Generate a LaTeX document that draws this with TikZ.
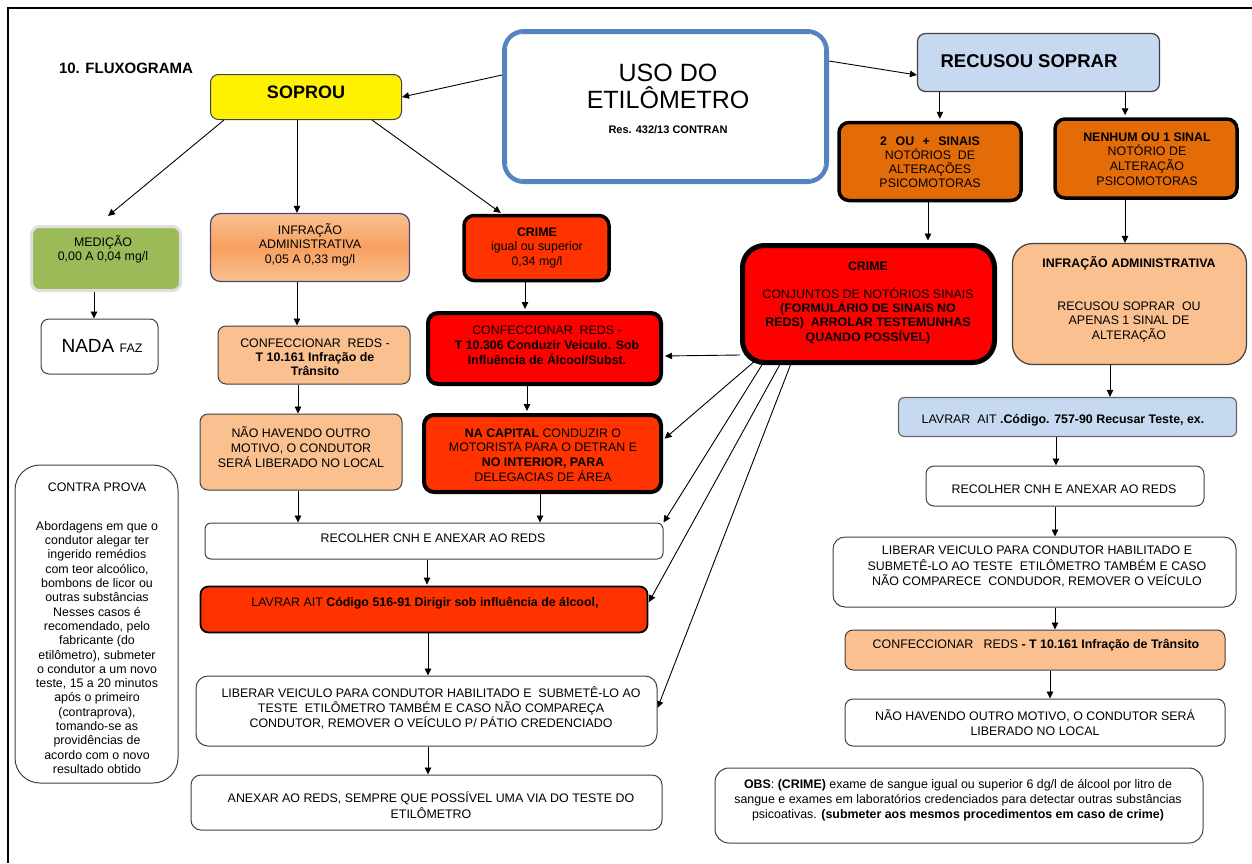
\documentclass[tikz,border=0pt]{standalone}
\usepackage{fontspec}
\setmainfont{Liberation Sans}
\usetikzlibrary{arrows.meta}
\definecolor{dgray}{RGB}{64,64,64}
\definecolor{usoblue}{RGB}{84,131,192}
\definecolor{lblue}{RGB}{198,217,241}
\definecolor{orng}{RGB}{227,108,9}
\definecolor{grn}{RGB}{155,187,89}
\definecolor{peach}{RGB}{250,192,144}
\definecolor{peachd}{RGB}{247,160,95}
\definecolor{redor}{RGB}{255,51,0}
\definecolor{navy}{RGB}{70,70,120}
\pgfdeclarelayer{bg}
\pgfsetlayers{bg,main}
\begin{document}
\begin{tikzpicture}[x=1pt,y=1pt,
  bx/.style={draw=dgray, line width=1pt, rounded corners=8pt, inner sep=0pt},
  tb/.style={draw=black, line width=3.5pt, rounded corners=10pt, inner sep=0pt},
  tx/.style={align=center, inner sep=0pt, font=\fontsize{12.4}{14.5}\selectfont},
  arr/.style={-{Triangle[length=7pt,width=6.5pt]}, line width=0.9pt}
]
\useasboundingbox (0,0) rectangle (1252,-863);
\draw[line width=2.5pt] (8,-863) -- (8,-8) -- (1252,-8);

\node[font=\bfseries\fontsize{15}{17}\selectfont, inner sep=0pt] (title) at (126,-68) {10. FLUXOGRAMA};

% SOPROU
\node[bx, fill=yellow, minimum width=191pt, minimum height=45pt] (soprou) at (306,-97) {};
\node[font=\bfseries\fontsize{18}{20}\selectfont, inner sep=0pt] (soprou-t) at (306,-92) {SOPROU};

% USO
\node[draw=usoblue, line width=4pt, rounded corners=20pt, minimum width=323pt, minimum height=151pt, fill=white, inner sep=0pt] (uso) at (665.5,-106.5) {};
\draw[usoblue, line width=0.8pt, rounded corners=16pt] ([shift={(4.6,-4.6)}]uso.north west) rectangle ([shift={(-4.6,4.6)}]uso.south east);
\node[tx, font=\fontsize{25}{27}\selectfont] (uso-t) at (668,-86.5) {USO DO\\ETILÔMETRO};
\node[font=\bfseries\fontsize{11}{13}\selectfont, inner sep=0pt] (uso-r) at (668,-130) {Res. 432/13 CONTRAN};

% RECUSOU
\node[bx, fill=lblue, line width=1.2pt, minimum width=242pt, minimum height=58pt] (recusou) at (1038.5,-62.5) {};
\node[font=\bfseries\fontsize{18.5}{20}\selectfont, inner sep=0pt] (recusou-t) at (1029,-61) {RECUSOU SOPRAR};

% DOIS
\node[tb, fill=orng, minimum width=182pt, minimum height=78pt] (dois) at (930,-161.5) {};
\node[tx, font=\fontsize{12.4}{14}\selectfont] (dois-t) at (930,-162) {\textbf{2\hspace{8.5pt}OU\hspace{8.5pt}+\hspace{8.5pt}SINAIS}\\NOTÓRIOS\ \ DE\\ALTERAÇÕES\\PSICOMOTORAS};

% NENHUM
\node[tb, fill=orng, minimum width=182pt, minimum height=79pt] (nenhum) at (1146,-158.5) {};
\node[tx, font=\fontsize{12.4}{14.7}\selectfont] (nenhum-t) at (1147,-159) {\textbf{NENHUM OU 1 SINAL}\\NOTÓRIO DE\\ALTERAÇÃO\\PSICOMOTORAS};

% MEDICAO
\node[draw=gray!25, line width=3pt, fill=grn, rounded corners=8pt, minimum width=149pt, minimum height=64pt, inner sep=0pt] (medicao) at (106,-258.5) {};
\node[tx, font=\fontsize{12.4}{14}\selectfont] (medicao-t) at (103,-249) {MEDIÇÃO\\0,00 A 0,04 mg/l};

% NADA
\node[bx, fill=white, minimum width=117pt, minimum height=55pt] (nada) at (99.5,-346.5) {};
\node[inner sep=0pt] (nada-t) at (102,-346) {\fontsize{19}{21}\selectfont NADA \fontsize{12.4}{14}\selectfont FAZ};

% INFRACAO left
\node[bx, draw=navy, line width=1.2pt, rounded corners=10pt, top color=peach, bottom color=peach, middle color=peachd, minimum width=199pt, minimum height=68pt] (infl) at (310,-247.5) {};
\node[tx] (infl-t) at (310,-244.5) {INFRAÇÃO\\ADMINISTRATIVA\\0,05 A 0,33 mg/l};

% CRIME small
\node[tb, fill=redor, minimum width=145pt, minimum height=65pt] (crimes) at (536.5,-248) {};
\node[tx] (crimes-t) at (537,-247.5) {\textbf{CRIME}\\igual ou superior\\0,34 mg/l};

% CONFEC left
\node[bx, fill=peach, minimum width=192pt, minimum height=58pt] (confl) at (314,-355) {};
\node[tx, font=\fontsize{12.4}{14}\selectfont] (confl-t) at (315,-357) {CONFECCIONAR\ \ REDS -\\\textbf{T 10.161 Infração de}\\\textbf{Trânsito}};

% CONFEC red
\node[tb, line width=4pt, fill=red, minimum width=233pt, minimum height=71pt] (confr) at (544.5,-348.5) {};
\node[tx, font=\fontsize{12.4}{15}\selectfont] (confr-t) at (547,-345) {CONFECCIONAR\ \ REDS -\\\textbf{T 10.306 Conduzir Veiculo. Sob}\\\textbf{Influência de Álcool/Subst.}};

% NAO left
\node[bx, fill=peach, minimum width=202pt, minimum height=76pt] (naol) at (301,-452) {};
\node[tx, font=\fontsize{12.4}{15}\selectfont] (naol-t) at (301,-447) {NÃO HAVENDO OUTRO\\MOTIVO, O CONDUTOR\\SERÁ LIBERADO NO LOCAL};

% NA CAPITAL
\node[tb, line width=4pt, fill=redor, minimum width=237pt, minimum height=77pt] (capital) at (542.5,-453.5) {};
\node[tx, font=\fontsize{12.4}{14.8}\selectfont] (capital-t) at (543,-455) {\textbf{NA CAPITAL} CONDUZIR O\\MOTORISTA PARA O DETRAN E\\\textbf{NO INTERIOR, PARA}\\DELEGACIAS DE ÁREA};

% CRIME big
\node[tb, line width=5pt, rounded corners=22pt, fill=red, minimum width=252pt, minimum height=117pt] (crimeb) at (868.5,-304) {};
\node[font=\bfseries\fontsize{12.4}{14}\selectfont, inner sep=0pt] (crimeb-t1) at (868,-266) {CRIME};
\node[tx, font=\fontsize{12.4}{14.3}\selectfont] (crimeb-t2) at (868,-315.5) {CONJUNTOS DE NOTÓRIOS SINAIS\\\textbf{(FORMULÁRIO DE SINAIS NO}\\\textbf{REDS)\ \ ARROLAR TESTEMUNHAS}\\\textbf{QUANDO POSSÍVEL)}};

% INFRACAO right
\node[bx, fill=peach, line width=1.2pt, rounded corners=20pt, minimum width=234pt, minimum height=121pt] (infr) at (1129.5,-304) {};
\node[font=\bfseries\fontsize{12.4}{14}\selectfont, inner sep=0pt] (infr-t1) at (1129,-263) {INFRAÇÃO ADMINISTRATIVA};
\node[tx] (infr-t2) at (1129,-321.5) {RECUSOU SOPRAR\ \ OU\\APENAS 1 SINAL DE\\ALTERAÇÃO};

% LAVRAR AIT right
\node[bx, fill=lblue, line width=1.2pt, draw=dgray!80, rounded corners=6pt, minimum width=338pt, minimum height=39pt] (aitr) at (1067.5,-417) {};
\node[tx] (aitr-t) at (1063,-420) {LAVRAR\ \ AIT \textbf{.Código. 757-90 Recusar Teste, ex.}};

% RECOLHER right
\node[bx, fill=white, minimum width=278pt, minimum height=40pt] (recr) at (1065,-486) {};
\node[tx] (recr-t) at (1064,-489) {RECOLHER CNH E ANEXAR AO REDS};

% LIBERAR right
\node[bx, fill=white, rounded corners=12pt, minimum width=403pt, minimum height=70pt] (libr) at (1034.5,-572) {};
\node[tx, font=\fontsize{12.4}{15.5}\selectfont] (libr-t) at (1037,-566.5) {LIBERAR VEICULO PARA CONDUTOR HABILITADO E\\SUBMETÊ-LO AO TESTE\ \ ETILÔMETRO TAMBÉM E CASO\\NÃO COMPARECE\ \ CONDUDOR, REMOVER O VEÍCULO};

% CONFEC right
\node[bx, fill=peach, minimum width=380pt, minimum height=40pt] (confrr) at (1035,-650) {};
\node[tx] (confrr-t) at (1036,-645) {CONFECCIONAR\ \ \ REDS \textbf{- T 10.161 Infração de Trânsito}};

% NAO right
\node[bx, fill=white, minimum width=380pt, minimum height=47pt] (naor) at (1035,-722.5) {};
\node[tx, font=\fontsize{12.4}{15}\selectfont] (naor-t) at (1035,-722.5) {NÃO HAVENDO OUTRO MOTIVO, O CONDUTOR SERÁ\\LIBERADO NO LOCAL};

% OBS
\node[bx, fill=white, rounded corners=14pt, minimum width=488pt, minimum height=75pt] (obs) at (959,-805.5) {};
\node[tx, font=\fontsize{12.4}{15}\selectfont] (obs-t) at (958,-800) {\textbf{OBS}: \textbf{(CRIME)} exame de sangue igual ou superior 6 dg/l de álcool por litro de\\sangue e exames em laboratórios credenciados para detectar outras substâncias\\psicoativas. \textbf{(submeter aos mesmos procedimentos em caso de crime)}};

% CONTRA PROVA
\node[bx, fill=white, rounded corners=25pt, minimum width=163pt, minimum height=318pt] (contra) at (96.5,-624) {};
\node[tx, font=\fontsize{12.4}{14.3}\selectfont, anchor=north] (contra-t) at (97,-482.5) {CONTRA PROVA\\[24.7pt]Abordagens em que o\\condutor alegar ter\\ingerido remédios\\com teor alcoólico,\\bombons de licor ou\\outras substâncias\\Nesses casos é\\recomendado, pelo\\fabricante (do\\etilômetro), submeter\\o condutor a um novo\\teste, 15 a 20 minutos\\após o primeiro\\(contraprova),\\tomando-se as\\providências de\\acordo com o novo\\resultado obtido};

% RECOLHER left
\node[bx, fill=white, rounded corners=6pt, minimum width=458pt, minimum height=36pt] (recl) at (434,-541) {};
\node[tx] (recl-t) at (433,-538) {RECOLHER CNH E ANEXAR AO REDS};

% LAVRAR left
\node[bx, draw=black, line width=1.8pt, fill=redor, minimum width=447pt, minimum height=46pt] (lavl) at (424,-609.5) {};
\node[tx] (lavl-t) at (425,-603) {LAVRAR AIT \textbf{Código 516-91 Dirigir sob influência de álcool,}};

% LIBERAR left
\node[bx, fill=white, rounded corners=12pt, minimum width=461pt, minimum height=70pt] (libl) at (426.5,-711) {};
\node[tx, font=\fontsize{12.4}{15}\selectfont] (libl-t) at (431,-708) {LIBERAR VEICULO PARA CONDUTOR HABILITADO E\ \ SUBMETÊ-LO AO\\TESTE\ \ ETILÔMETRO TAMBÉM E CASO NÃO COMPAREÇA\\CONDUTOR, REMOVER O VEÍCULO P/ PÁTIO CREDENCIADO};

% ANEXAR
\node[bx, fill=white, rounded corners=10pt, minimum width=471pt, minimum height=55pt] (anex) at (426.5,-802.5) {};
\node[tx, font=\fontsize{12.4}{16}\selectfont] (anex-t) at (431,-805) {ANEXAR AO REDS, SEMPRE QUE POSSÍVEL UMA VIA DO TESTE DO\\ETILÔMETRO};

% connectors
\draw[arr] ([yshift=31.5pt]uso.west) -- (soprou.east);
\draw[arr] ([yshift=45.5pt]uso.east) -- ([yshift=-12.5pt]recusou.west);
\draw[arr] ([xshift=14pt]soprou.south west) -- ([xshift=2pt,yshift=9pt]medicao.north);
\draw[arr] ([xshift=-9pt]soprou.south) -- ([xshift=-9pt]soprou.south |- infl.north);
\draw[arr, shorten >=1.5pt] ([xshift=-30pt]soprou.south east) -- ([xshift=-34.5pt]crimes.north);
\draw[arr, shorten >=2pt] ([xshift=23pt]recusou.south west) -- ([xshift=23pt]recusou.south west |- dois.north);
\draw[arr, shorten >=2pt] ([xshift=-35pt]recusou.south east) -- ([xshift=-35pt]recusou.south east |- nenhum.north);
\draw[arr, shorten >=2.5pt] ([xshift=-2pt]dois.south) -- ([xshift=-2pt]dois.south |- crimeb.north);
\draw[arr] ([xshift=-21pt]nenhum.south) -- ([xshift=-21pt]nenhum.south |- infr.north);
\draw[arr] ([xshift=-12pt]medicao.south) -- ([xshift=-12pt]medicao.south |- nada.north);
\draw[arr] ([xshift=-13pt]infl.south) -- ([xshift=-13pt]infl.south |- confl.north);
\draw[arr] ([xshift=-16pt]confl.south) -- ([xshift=-16pt]confl.south |- naol.north);
\draw[arr] ([xshift=-3pt]naol.south) -- ([xshift=-3pt]naol.south |- recl.north);
\draw[arr, shorten >=2pt] ([xshift=-11.5pt]crimes.south) -- ([xshift=-11.5pt]crimes.south |- confr.north);
\draw[arr, shorten >=2pt] ([xshift=-17.5pt]confr.south) -- ([xshift=-17.5pt]confr.south |- capital.north);
\draw[arr] ([xshift=-2.5pt]capital.south) -- ([xshift=-2.5pt]capital.south |- recl.north);
\draw[arr, shorten >=1pt] ([xshift=-7pt]recl.south) -- ([xshift=-7pt]recl.south |- lavl.north);
\draw[arr] ([xshift=4pt]lavl.south) -- ([xshift=4pt]lavl.south |- libl.north);
\draw[arr] ([xshift=1.5pt]libl.south) -- ([xshift=1.5pt]libl.south |- anex.north);
\draw[arr, shorten >=2pt] ([yshift=-51pt]crimeb.west) -- ([yshift=-7.5pt]confr.east);
\coordinate (cb1) at (763,-354);
\coordinate (cb2) at (770,-352);
\coordinate (cb3) at (789.5,-347);
\coordinate (cb4) at (798,-345.5);
\begin{pgfonlayer}{bg}
\draw[arr, shorten >=2pt] (cb1) -- ([yshift=13.5pt]capital.east);
\draw[arr] (cb2) -- (recl.north east);
\draw[arr, shorten >=1pt] (cb3) -- ([yshift=6.5pt]lavl.east);
\draw[arr] (cb4) -- ([yshift=3pt]libl.east);
\end{pgfonlayer}
\draw[arr] ([xshift=-19.5pt]infr.south) -- ([xshift=-19.5pt]infr.south |- aitr.north);
\draw[arr] ([xshift=-11.5pt]aitr.south) -- ([xshift=-11.5pt]aitr.south |- recr.north);
\draw[arr] ([xshift=-10pt]recr.south) -- ([xshift=-10pt]recr.south |- libr.north);
\draw[arr] ([xshift=20.5pt]libr.south) -- ([xshift=20.5pt]libr.south |- confrr.north);
\draw[arr] ([xshift=15pt]confrr.south) -- ([xshift=15pt]confrr.south |- naor.north);
\end{tikzpicture}
\end{document}
